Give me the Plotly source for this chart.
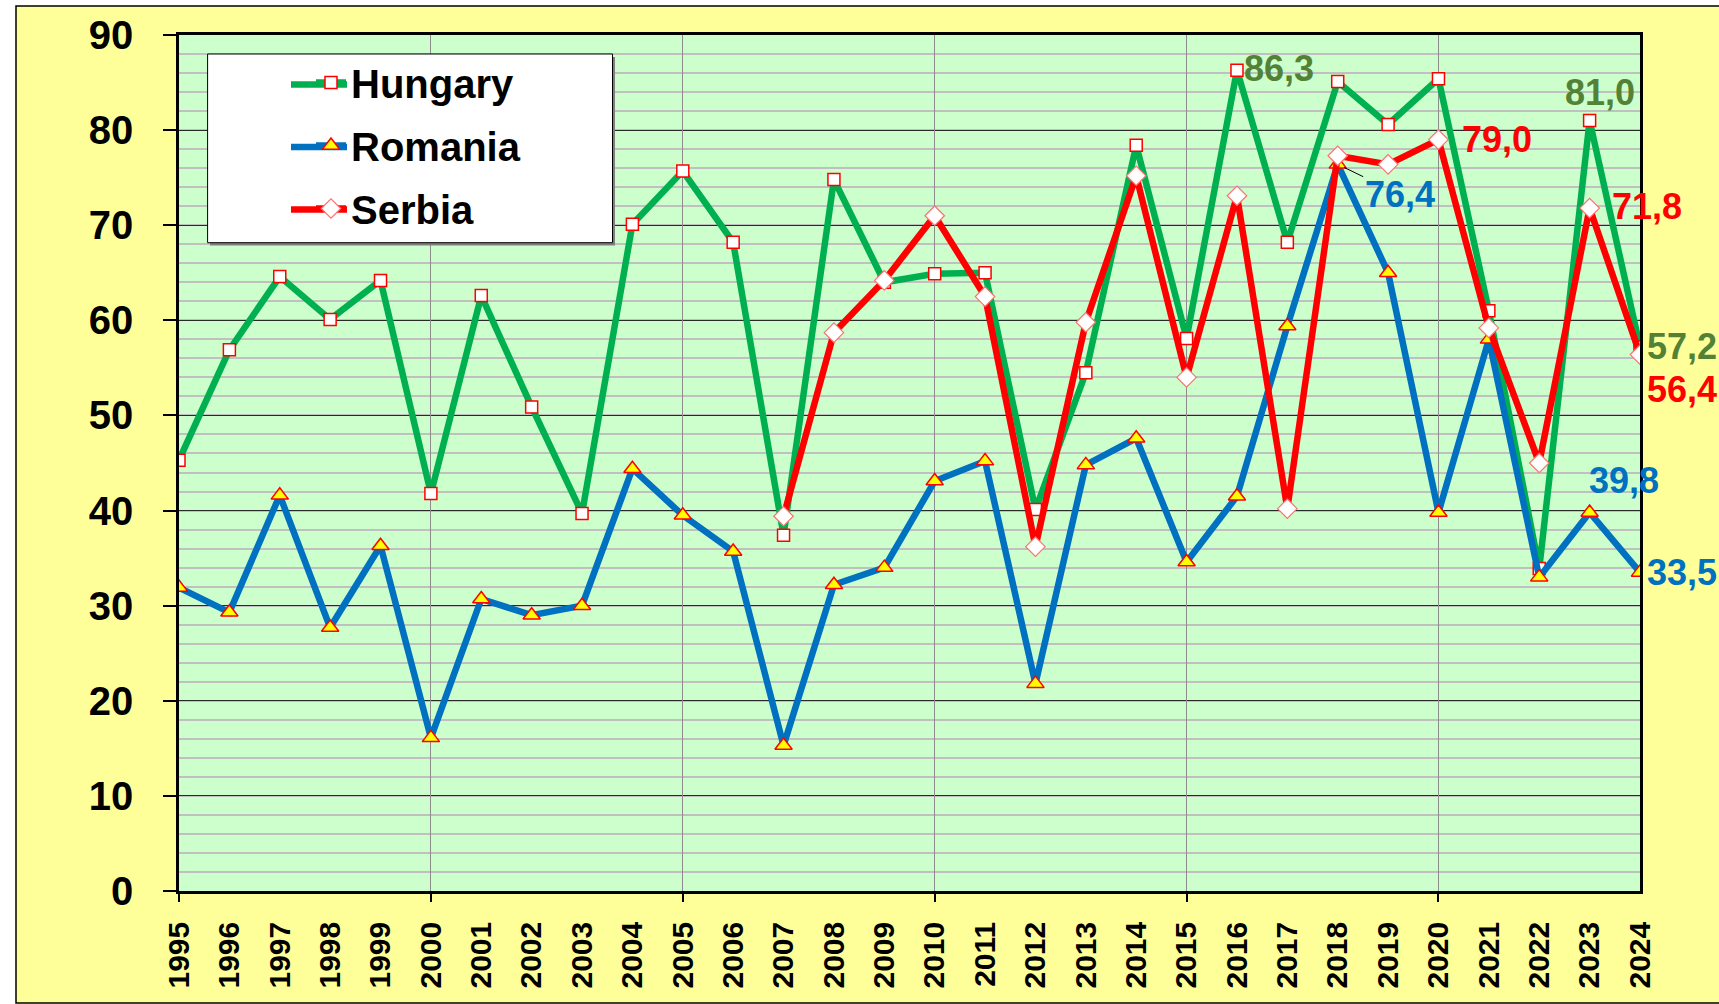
import plotly.graph_objects as go

years = list(range(1995, 2025))
year_labels = [str(y) for y in years]
hungary = [45.3, 56.9, 64.6, 60.1, 64.2, 41.8, 62.6, 50.9, 39.7, 70.1, 75.7, 68.2, 37.4, 74.8, 64.0,
           64.9, 65.0, 40.1, 54.5, 78.4, 58.1, 86.3, 68.2, 85.1, 80.6, 85.4, 61.0, 33.9, 81.0, 57.2]
romania = [31.9, 29.3, 41.6, 27.7, 36.3, 16.1, 30.7, 29.0, 30.0, 44.4, 39.5, 35.7, 15.3, 32.2, 34.0,
           43.1, 45.2, 21.8, 44.8, 47.6, 34.6, 41.5, 59.4, 76.4, 65.0, 39.8, 58.0, 33.0, 39.8, 33.5]
serbia = [None] * 12 + [39.4, 58.7, 64.2, 71.0, 62.5, 36.2, 59.8, 75.2, 54.0, 73.1, 40.2, 77.3,
                        76.4, 79.0, 59.2, 45.0, 71.8, 56.4]
y_ticks = list(range(0, 91, 10))
grid_years = [1995, 2000, 2005, 2010, 2015, 2020]

FONT = "Liberation Sans, Arial, sans-serif"
GREEN, BLUE, RED = "#00B050", "#0070C0", "#FF0000"
LBL_GREEN = "#538135"
LW = 6.5

fig = go.Figure()
fig.add_trace(go.Scatter(x=years, y=hungary, name="Hungary", mode="lines+markers",
                         line=dict(color=GREEN, width=LW), legendgroup="h",
                         marker=dict(symbol="square", size=12, color="white",
                                     line=dict(color=RED, width=1.5))))
fig.add_trace(go.Scatter(x=years, y=romania, name="Romania", mode="lines+markers",
                         line=dict(color=BLUE, width=LW), legendgroup="r",
                         marker=dict(symbol="triangle-up", size=15, color="#FFFF00",
                                     line=dict(color=RED, width=1.5))))
fig.add_trace(go.Scatter(x=years, y=serbia, name="Serbia", mode="lines+markers",
                         line=dict(color=RED, width=LW), legendgroup="s",
                         marker=dict(symbol="diamond", size=15, color="white",
                                     line=dict(color="#FF7070", width=1.2))))
# helper trace so the overlay axis (5-year grid) is rendered
fig.add_trace(go.Scatter(x=[], y=[], xaxis="x2", showlegend=False, hoverinfo="skip"))

def fmt(v):
    return f"{v:.1f}".replace(".", ",")

# data labels: (series, year, colour, xanchor, xshift, yshift)
label_specs = [
    (hungary, 2016, LBL_GREEN, "left", 5, 2),
    (hungary, 2023, LBL_GREEN, "center", 10, 28),
    (hungary, 2024, LBL_GREEN, "left", 5, 0),
    (serbia, 2020, RED, "left", 22, 0),
    (serbia, 2023, RED, "left", 20, 2),
    (serbia, 2024, RED, "left", 5, -35),
    (romania, 2023, BLUE, "center", 34, 32),
    (romania, 2024, BLUE, "left", 5, 0),
]
for series, yr, col, xa, xs, ys in label_specs:
    v = series[years.index(yr)]
    fig.add_annotation(x=yr, y=v, text=fmt(v), showarrow=False, xanchor=xa, yanchor="middle",
                       xshift=xs, yshift=ys, font=dict(family=FONT, size=36, color=col))
# Romania 2018 label with leader line
v18 = romania[years.index(2018)]
fig.add_annotation(x=2018, y=v18, text=fmt(v18), showarrow=True, arrowhead=0, arrowwidth=1,
                   arrowcolor="black", ax=62, ay=30, standoff=7,
                   font=dict(family=FONT, size=36, color=BLUE))

# frame geometry (plot area 179..1640 x 35..891 px)
L, T, W, H = 179, 35, 1461, 856
def px(x):
    return (x - L) / W
def py(y):
    return (T + H - y) / H

shapes = [
    dict(type="rect", xref="paper", yref="paper", x0=px(16), x1=px(1735), y0=py(1003), y1=py(6),
         fillcolor="#FFFF99", line=dict(color="black", width=1.5), layer="below"),
    dict(type="rect", xref="paper", yref="paper", x0=0, x1=1, y0=0, y1=1,
         fillcolor="#CCFFCC", line=dict(width=0), layer="below"),
    # legend box (shadow + white box)
    dict(type="rect", xref="paper", yref="paper", x0=px(210), x1=px(615), y0=py(245.5), y1=py(57),
         fillcolor="#7f7f7f", line=dict(width=0), layer="above"),
    dict(type="rect", xref="paper", yref="paper", x0=px(207.6), x1=px(612.5), y0=py(242.7), y1=py(54),
         fillcolor="white", line=dict(color="black", width=1), layer="above"),
]
# longer legend key lines (drawn under the legend's own symbols)
for col, yy in [(GREEN, 84.5), (BLUE, 147), (RED, 209.5)]:
    shapes.append(dict(type="line", xref="paper", yref="paper", x0=px(291), x1=px(347),
                       y0=py(yy), y1=py(yy), line=dict(color=col, width=LW), layer="above"))

fig.update_layout(
    width=1719, height=1004,
    margin=dict(l=L, r=1719 - L - W, t=T, b=1004 - T - H),
    paper_bgcolor="white", plot_bgcolor="rgba(0,0,0,0)",
    shapes=shapes,
    showlegend=True,
    legend=dict(x=px(311), y=py(50), xanchor="left", yanchor="top",
                bgcolor="rgba(0,0,0,0)", borderwidth=0, tracegroupgap=8,
                font=dict(family=FONT, size=40, color="black", weight="bold"),
                traceorder="grouped"),
    xaxis=dict(range=[1995, 2024], tickvals=years, ticktext=year_labels, tickangle=-90,
               showgrid=False, zeroline=False, ticks="", showline=True, linecolor="black",
               linewidth=2.5, mirror=True, ticklabelstandoff=16,
               tickfont=dict(family=FONT, size=30, color="black", weight="bold")),
    xaxis2=dict(range=[1995, 2024], overlaying="x", anchor="y", side="bottom", matches="x",
                tickvals=grid_years, showticklabels=False, showgrid=True, gridcolor="#8c8c8c",
                gridwidth=1, ticks="outside", ticklen=10, tickwidth=1.5, tickcolor="black",
                zeroline=False, showline=False),
    yaxis=dict(range=[0, 90], tickvals=y_ticks, showgrid=True, gridcolor="#2a2a2a", gridwidth=1.2,
               zeroline=False, showline=True, linecolor="black", linewidth=2.5, mirror=True,
               ticks="outside", ticklen=13, tickwidth=1.5, tickcolor="black", ticklabelstandoff=22,
               minor=dict(dtick=2, showgrid=True, gridcolor="#c0c0c0", gridwidth=1.5, ticks=""),
               tickfont=dict(family=FONT, size=40, color="black", weight="bold")),
    font=dict(family=FONT),
)
for a in fig.layout.annotations:
    a.font.weight = "bold"

fig.write_html("out.html", config={"displayModeBar": False},
               post_script="document.body.style.margin='0';document.body.style.overflow='hidden';")
